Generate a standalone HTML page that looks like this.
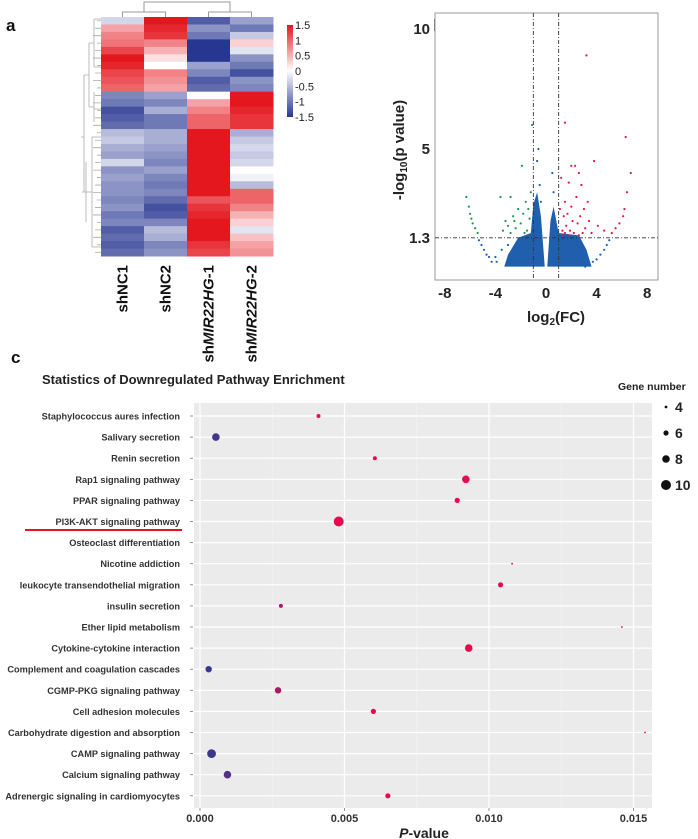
<!DOCTYPE html>
<html><head><meta charset="utf-8">
<style>
html,body{margin:0;padding:0;background:#fff;}
svg{display:block;font-family:"Liberation Sans",Arial,sans-serif;}
</style></head>
<body>
<svg id="fig" width="698" height="839" viewBox="0 0 698 839" xmlns="http://www.w3.org/2000/svg">
<g id="pa"></g>
<g id="pb"></g>
<g id="pc"></g>
</svg>
<script>
// ---------- Panel A data ----------
const heatSamples = ["shNC1","shNC2","shMIR22HG-1","shMIR22HG-2"];
const heatRows = [
[-0.3,1.5,-1.2,-0.7],[0.6,1.4,-0.8,-1.0],[0.8,1.3,-1.0,-0.4],[0.9,0.8,-1.5,0.3],
[1.2,0.5,-1.5,-0.2],[1.5,0.2,-1.5,-0.8],[1.4,0.0,-0.7,-1.0],[1.2,0.8,-0.9,-1.3],
[1.1,0.7,-1.2,-0.8],[1.0,0.6,-1.1,-0.9],
[-0.9,-0.7,0.0,1.5],[-1.0,-0.9,0.6,1.5],[-1.3,-0.6,0.8,1.4],[-1.2,-1.0,1.0,1.3],[-1.1,-1.0,1.0,1.3],
[-0.5,-0.6,1.5,-0.6],[-0.4,-0.6,1.5,-0.4],[-0.6,-0.7,1.5,-0.3],[-0.7,-0.8,1.5,-0.4],
[-0.3,-0.9,1.5,-0.3],[-0.8,-0.7,1.5,0.0],[-0.7,-0.9,1.5,-0.1],[-0.8,-1.0,1.5,-0.5],[-0.8,-0.9,1.5,1.0],
[-0.9,-1.1,1.1,1.0],[-0.8,-1.3,1.3,0.8],[-1.0,-1.2,1.4,0.5],[-0.9,-0.9,1.5,0.3],
[-1.2,-0.5,1.5,-0.2],[-1.1,-0.6,1.5,0.4],[-1.2,-0.9,1.3,0.6],[-1.1,-0.8,1.2,0.7]
];
const colorbarTicks = [1.5,1,0.5,0,-0.5,-1,-1.5];
const colorbarLabels = ["1.5","1","0.5","0","-0.5","-1","-1.5"];

// ---------- Panel B data ----------
const volXTicks = [-8,-4,0,4,8];
const volYTicks = [10,5,1.3];
const volYTickLabels = ["10","5","1.3"];
const volGreen = [[-6.3,3.0],[-6.1,2.6],[-6.0,2.3],[-5.9,2.1],[-5.8,1.9],[-5.6,1.7],[-5.4,1.5],[-3.6,3.0],[-2.8,3.0],[-1.9,4.3],[-1.1,6.0],[-3.2,2.0],[-3.0,1.8],[-2.6,2.2],[-2.4,1.7],[-2.2,2.5],[-2.0,1.9],[-1.8,2.3],[-1.6,2.8],[-1.5,1.6],[-1.3,2.1],[-1.2,3.2],[-3.4,1.6],[-2.8,1.5],[-1.7,1.5],[-1.4,2.5],[-2.5,2.0]];
const volRed = [[3.2,8.9],[1.5,6.1],[6.3,5.5],[3.8,4.5],[6.7,4.0],[2.0,4.3],[2.3,4.3],[2.6,4.0],[1.8,3.6],[1.2,3.8],[2.8,3.5],[3.4,2.0],[3.0,2.5],[2.4,3.0],[1.5,2.8],[1.7,2.3],[2.1,2.0],[2.5,1.9],[3.1,1.7],[4.1,1.8],[4.6,1.6],[1.3,1.6],[1.6,1.8],[2.9,1.5],[3.6,1.5],[6.4,3.2],[6.2,2.5],[6.1,2.2],[5.8,1.9],[5.5,1.7],[5.2,1.5],[2.0,2.6],[1.4,2.2],[2.7,2.2],[1.9,1.6],[2.2,1.5],[3.3,2.8],[1.1,2.5],[1.8,1.4],[2.6,1.4],[1.3,1.4],[1.5,1.5]];
const volBlue = [[-5.3,1.2],[-5.1,1.0],[-4.9,0.8],[-4.7,0.6],[-4.5,0.5],[-4.3,0.3],[-3.9,0.3],[-4.0,0.5],[-3.5,0.8],[-3.0,1.0],[-2.5,0.6],[5.0,1.2],[4.8,1.0],[4.6,0.8],[4.3,0.6],[4.0,0.4],[3.7,0.3],[3.2,0.5],[2.8,0.8],[-0.6,5.0],[-0.7,4.5],[0.5,4.0],[0.6,3.2],[-0.5,3.5],[-0.4,2.8],[3.1,0.1]];
const volDense = [[-3.3,0.1],[-3.0,0.6],[-2.2,1.3],[-1.2,1.5],[-1.0,2.7],[-0.7,3.2],[-0.4,2.2],[-0.1,0.1],[0.1,0.1],[0.35,2.0],[0.6,2.6],[1.0,1.5],[2.6,1.4],[3.2,0.8],[3.6,0.1]];

// ---------- Panel C data ----------
const pathways = ["Staphylococcus aures infection","Salivary secretion","Renin secretion","Rap1 signaling pathway","PPAR signaling pathway","PI3K-AKT signaling pathway","Osteoclast differentiation","Nicotine addiction","leukocyte transendothelial migration","insulin secretion","Ether lipid metabolism","Cytokine-cytokine interaction","Complement and coagulation cascades","CGMP-PKG signaling pathway","Cell adhesion molecules","Carbohydrate digestion and absorption","CAMP signaling pathway","Calcium signaling pathway","Adrenergic signaling in cardiomyocytes"];
const pValues = [0.0041,0.00055,0.00605,0.0092,0.0089,0.0048,null,0.0108,0.0104,0.0028,0.0146,0.0093,0.0003,0.0027,0.0060,0.0154,0.0004,0.00095,0.0065];
const geneCounts = [5,8,5,8,6,10,null,3,6,5,3,8,7,7,6,3,9,8,6];
const pTicks = [0,0.005,0.010,0.015];
const pTickLabels = ["0.000","0.005","0.010","0.015"];
const legendCounts = [4,6,8,10];

const NS="http://www.w3.org/2000/svg";
function mk(parent,tag,attrs,text){const e=document.createElementNS(NS,tag);for(const k in attrs)e.setAttribute(k,attrs[k]);if(text!==undefined)e.textContent=text;parent.appendChild(e);return e;}

// ===== Panel A =====
(function(){
const g=document.getElementById('pa');
const t=mk(g,'text',{x:6,y:31,'font-size':17,'font-weight':'bold',fill:'#111'},'a');


const x0=101,y0=17,cw=43,H=239;
const rh=H/heatRows.length;
function col(v){
  const r=Math.max(-1.5,Math.min(1.5,v))/1.5;
  let c0,c1,tt;
  if(r>=0){c0=[255,255,255];c1=[228,22,30];tt=r;} else {c0=[255,255,255];c1=[38,54,145];tt=-r;}
  const m=c0.map((a,i)=>Math.round(a+(c1[i]-a)*tt));
  return `rgb(${m[0]},${m[1]},${m[2]})`;
}
heatRows.forEach((row,i)=>{
  row.forEach((v,j)=>{
    const r=mk(g,'rect',{x:x0+j*cw,y:y0+i*rh,width:cw+0.5,height:rh+0.5,fill:col(v)});
    
    
  });
});
const dd=mk(g,'path',{d:`M${x0+cw*0.5} ${y0} V12 H${x0+cw*1.5} V${y0} M${x0+cw} 12 V2 H${x0+cw*3} V12 M${x0+cw*2.5} ${y0} V12 H${x0+cw*3.5} V${y0}`,stroke:'#999',fill:'none','stroke-width':1});


let dp=`M${x0} ${y0+2} H94 M${x0} ${y0+50} H94 M94 ${y0+2} V${y0+50} M94 ${y0+26} H89 M${x0} ${y0+92} H94 M94 ${y0+75} V${y0+105} M94 ${y0+90} H89 M89 ${y0+26} V${y0+90} M89 ${y0+58} H84 M${x0} ${y0+120} H92 M${x0} ${y0+230} H92 M92 ${y0+120} V${y0+230} M92 ${y0+175} H86 M86 ${y0+145} V${y0+205} M86 ${y0+175} H82 M84 ${y0+58} V${y0+175} M84 ${y0+120} H81`;
for(let i=0;i<heatRows.length;i++){dp+=` M${x0} ${y0+i*rh+rh/2} H${x0-4-(i%3)*2}`;}
const ld=mk(g,'path',{d:dp,stroke:'#aaa',fill:'none','stroke-width':0.8});


const cbx=287,cbt=25,cbb=117;
const defs=mk(g,'defs',{});
const lg=mk(defs,'linearGradient',{id:'cbg',x1:0,y1:0,x2:0,y2:1});
mk(lg,'stop',{offset:'0',  'stop-color':'rgb(228,22,30)'});
mk(lg,'stop',{offset:'0.5','stop-color':'#fff'});
mk(lg,'stop',{offset:'1',  'stop-color':'rgb(38,54,145)'});
const cb=mk(g,'rect',{x:cbx,y:cbt,width:6,height:cbb-cbt,fill:'url(#cbg)'});


colorbarTicks.forEach((v,i)=>{
  const y=cbt+(1.5-v)/3*(cbb-cbt);
  const tx=mk(g,'text',{x:295,y:y+4,'font-size':11,fill:'#222'},colorbarLabels[i]);
  
  
});
heatSamples.forEach((s,j)=>{
  const cx=x0+j*cw+cw/2+5;
  const tx=mk(g,'text',{x:0,y:0,'font-size':15,'font-weight':'bold',fill:'#111','text-anchor':'end',transform:`translate(${cx},265) rotate(-90)`});
  if(s.startsWith('shMIR')){
    mk(tx,'tspan',{},'sh');mk(tx,'tspan',{'font-style':'italic'},s.slice(2,9));mk(tx,'tspan',{},s.slice(9));
  } else tx.textContent=s;
  
  
});
})();

// ===== Panel B =====
(function(){
const g=document.getElementById('pb');
const t=mk(g,'text',{x:433,y:31,'font-size':17,'font-weight':'bold',fill:'#111'},'b');


const L=435,R=658,T=13,B=280;
const X=v=>546+v*12.65, Y=v=>269-v*24;
const box=mk(g,'rect',{x:L,y:T,width:R-L,height:B-T,fill:'#fff',stroke:'#999','stroke-width':1});


const dense=mk(g,'polygon',{points:volDense.map(p=>X(p[0])+','+Y(p[1])).join(' '),fill:'#1f5fae'});


function pts(arr,color,name){arr.forEach(p=>{const c=mk(g,'circle',{cx:X(p[0]),cy:Y(p[1]),r:1.1,fill:color});

});}
pts(volBlue,'#1f5fae','point-not-significant');
pts(volGreen,'#1a9850','point-down');
pts(volRed,'#e8173c','point-up');
[-1,1].forEach(v=>{const l=mk(g,'line',{x1:X(v),x2:X(v),y1:T,y2:B,stroke:'#333','stroke-dasharray':'4 2 1 2','stroke-width':0.9});

});
const hl=mk(g,'line',{x1:L,x2:R,y1:Y(1.3),y2:Y(1.3),stroke:'#333','stroke-dasharray':'4 2 1 2','stroke-width':0.9});


volXTicks.forEach(v=>{const tx=mk(g,'text',{x:X(v),y:298,'font-size':15,'font-weight':'bold','text-anchor':'middle',fill:'#222'},String(v));

});
volYTicks.forEach((v,i)=>{const tx=mk(g,'text',{x:430,y:Y(v)+5,'font-size':15,'font-weight':'bold','text-anchor':'end',fill:'#222'},volYTickLabels[i]);

});
const xt=mk(g,'text',{x:556,y:322,'font-size':15,'font-weight':'bold','text-anchor':'middle',fill:'#222'});
mk(xt,'tspan',{},'log');mk(xt,'tspan',{'font-size':10,dy:3},'2');mk(xt,'tspan',{dy:-3},'(FC)');


const yt=mk(g,'text',{x:0,y:0,'font-size':15,'font-weight':'bold','text-anchor':'middle',fill:'#222',transform:'translate(404,150) rotate(-90)'});
mk(yt,'tspan',{},'-log');mk(yt,'tspan',{'font-size':10,dy:3},'10');mk(yt,'tspan',{dy:-3},'(p value)');


})();

// ===== Panel C =====
(function(){
const g=document.getElementById('pc');
const t=mk(g,'text',{x:11,y:363,'font-size':17,'font-weight':'bold',fill:'#111'},'c');


const ti=mk(g,'text',{x:42,y:384,'font-size':13,'font-weight':'bold',fill:'#222'},'Statistics of Downregulated Pathway Enrichment');


const L=194,R=652,T=403,B=808;
const X=p=>200+p*28900, Y=i=>416+i*21.1;
const bg=mk(g,'rect',{x:L,y:T,width:R-L,height:B-T,fill:'#ebebeb'});


[0.0025,0.0075,0.0125].forEach(v=>{mk(g,'line',{x1:X(v),x2:X(v),y1:T,y2:B,stroke:'#f5f5f5','stroke-width':0.6});});
pTicks.forEach(v=>{const l=mk(g,'line',{x1:X(v),x2:X(v),y1:T,y2:B,stroke:'#fff','stroke-width':1.2});

});
pathways.forEach((name,i)=>{
  const l=mk(g,'line',{x1:L,x2:R,y1:Y(i),y2:Y(i),stroke:'#fff','stroke-width':1.2});
  
  
  mk(g,'line',{x1:L-4,x2:L-1,y1:Y(i),y2:Y(i),stroke:'#666','stroke-width':0.7});
  const tx=mk(g,'text',{x:180,y:Y(i)+3.5,'font-size':9.2,'font-weight':'bold','text-anchor':'end',fill:'#333'},name);
  
  
});
const ul=mk(g,'line',{x1:25,x2:182,y1:530,y2:530,stroke:'#e8141c','stroke-width':2});


function dotColor(p){const tt=Math.min(1,p/0.004);
  const a=[40,60,150],b=[230,10,80];
  return `rgb(${Math.round(a[0]+(b[0]-a[0])*tt)},${Math.round(a[1]+(b[1]-a[1])*tt)},${Math.round(a[2]+(b[2]-a[2])*tt)})`;}
const rad=n=>Math.max(0.9,0.6*n-1);
pValues.forEach((p,i)=>{
  if(p===null)return;
  const c=mk(g,'circle',{cx:X(p),cy:Y(i),r:rad(geneCounts[i]),fill:dotColor(p)});
  
  
});
pTicks.forEach((v,i)=>{
  mk(g,'line',{x1:X(v),x2:X(v),y1:B,y2:B+3,stroke:'#666','stroke-width':0.7});
  const tx=mk(g,'text',{x:X(v),y:822,'font-size':11,'font-weight':'bold','text-anchor':'middle',fill:'#333'},pTickLabels[i]);
  
  
});
const xt=mk(g,'text',{x:424,y:838,'font-size':14,'font-weight':'bold','text-anchor':'middle',fill:'#222'});
mk(xt,'tspan',{'font-style':'italic'},'P');mk(xt,'tspan',{},'-value');


const lt=mk(g,'text',{x:618,y:390,'font-size':10.5,'font-weight':'bold',fill:'#222'},'Gene number');


legendCounts.forEach((n,i)=>{
  const y=407+i*26;
  const c=mk(g,'circle',{cx:666,cy:y,r:rad(n),fill:'#111'});
  
  
  const tx=mk(g,'text',{x:675,y:y+5,'font-size':14,'font-weight':'bold',fill:'#222'},String(n));
  
  
});
})();
</script>
</body></html>
